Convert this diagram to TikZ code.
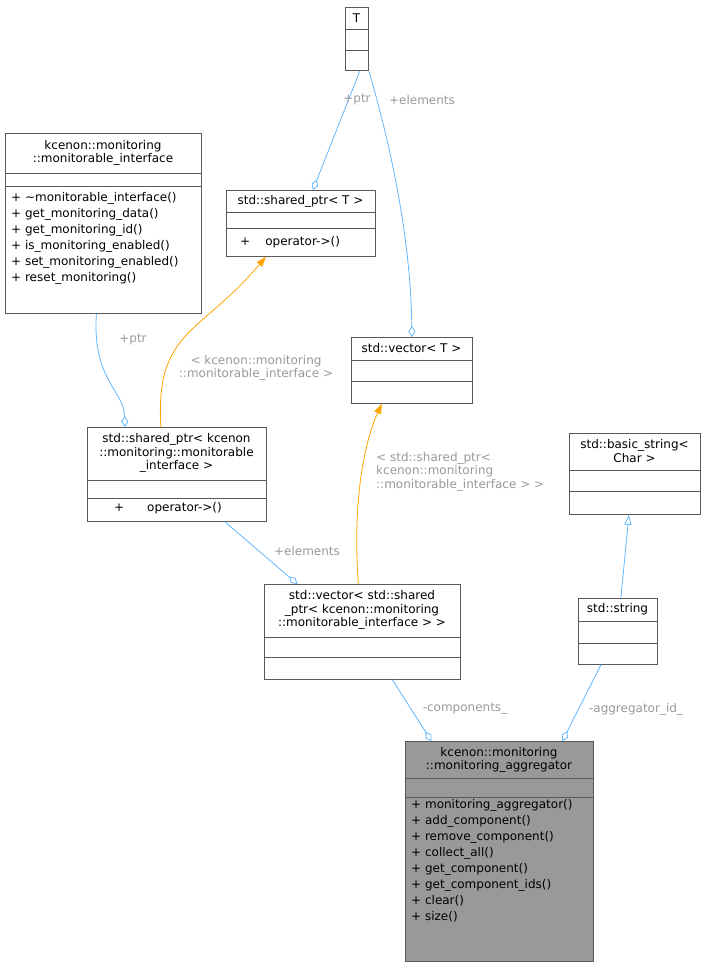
\documentclass[tikz,border=0pt]{standalone}
\usepackage{fontspec}
\setmainfont{DejaVu Sans}
\usetikzlibrary{arrows.meta,calc}
\definecolor{edgeblue}{HTML}{63B8FF}
\definecolor{edgeorange}{HTML}{FFA500}
\definecolor{lblgray}{HTML}{9A9A9A}
\definecolor{boxgray}{HTML}{999999}
\tikzset{
  cls/.style={draw=black!65, fill=white, rectangle, inner sep=0pt, anchor=north west, line width=0.8pt},
  txt/.style={inner sep=0pt, font=\fontsize{12}{13.5}\selectfont, align=center},
  mth/.style={inner sep=0pt, font=\fontsize{12}{16}\selectfont, align=left, anchor=north west},
  lbl/.style={inner sep=0pt, text=lblgray, font=\fontsize{12}{13.5}\selectfont, align=center},
  member/.style={draw=edgeblue, line width=0.8pt, -{Diamond[open, length=11pt, width=7pt]}},
  tmpl/.style={draw=edgeorange, line width=0.8pt, -{Triangle[length=10pt, width=7pt, fill=edgeorange]}},
  inherit/.style={draw=edgeblue, line width=0.8pt, -{Triangle[open, length=10pt, width=7pt]}}
}
% box: name, x, y, w, h, divider 1, divider 2
\newcommand{\classbox}[8][white]{%
  \node[cls, fill=#1, minimum width=#5pt, minimum height=#6pt] (#2) at (#3,#4) {};
  \draw[black!65, line width=0.8pt] (#3,#7) -- ++(#5,0);
  \draw[black!65, line width=0.8pt] (#3,#8) -- ++(#5,0);
}
\begin{document}
\begin{tikzpicture}[x=1pt, y=-1pt]
\useasboundingbox (0,0) rectangle (706,967);
\fill[white] (0,0) rectangle (706,967);

% class boxes
\classbox{T}{345}{7}{23}{63}{29}{50}
\node[txt] (tT) at (356.5,18) {T};

\classbox{mi}{5}{133}{196}{180}{173}{186}
\node[txt] (tmi) at (103,153) {kcenon::monitoring\\::monitorable\_interface};
\node[mth] (mmi) at (11,192) {+\ \textasciitilde monitorable\_interface()\\+\ get\_monitoring\_data()\\+\ get\_monitoring\_id()\\+\ is\_monitoring\_enabled()\\+\ set\_monitoring\_enabled()\\+\ reset\_monitoring()};

\classbox{spT}{226}{190}{149}{66}{212}{228}
\node[txt] (tspT) at (300.5,201) {std::shared\_ptr< T >};
\node[txt] (mspT) at (290,242) {+\ \ \ \ operator->()};

\classbox{vT}{351}{337}{121}{66}{360}{381}
\node[txt] (tvT) at (411.5,348) {std::vector< T >};

\classbox{spK}{87}{427}{179}{94}{480}{498}
\node[txt] (tspK) at (176.5,453) {std::shared\_ptr< kcenon\\::monitoring::monitorable\\\_interface >};
\node[txt] (mspK) at (168,508) {+\ \ \ \ \ \ operator->()};

\classbox{bs}{569}{433}{131}{81}{470}{491}
\node[txt] (tbs) at (634.5,451) {std::basic\_string<\\Char >};

\classbox{vS}{264}{584}{196}{95}{637}{657}
\node[txt] (tvS) at (362,610) {std::vector< std::shared\\\_ptr< kcenon::monitoring\\::monitorable\_interface > >};

\classbox{str}{578}{598}{79}{66}{621}{643}
\node[txt] (tstr) at (617.5,609) {std::string};

\classbox[boxgray]{agg}{405}{741}{188}{220}{778}{797}
\node[txt] (tagg) at (499,760) {kcenon::monitoring\\::monitoring\_aggregator};
\node[mth] (magg) at (411,799) {+\ monitoring\_aggregator()\\+\ add\_component()\\+\ remove\_component()\\+\ collect\_all()\\+\ get\_component()\\+\ get\_component\_ids()\\+\ clear()\\+\ size()};

% connectors
\draw[member] ($(T.south)+(3,0)$) -- ($(spT.north)+(12,0)$);
\draw[member] (T.south east) .. controls (395,160) and (411,250) .. (vT.north);
\draw[member] ($(mi.south)+(-7,0)$) .. controls (92,380) and (124,390) .. ($(spK.north)+(-52,0)$);
\draw[tmpl] ($(spK.north)+(-16,0)$) .. controls (155,330) and (200,335) .. ($(spT.south)+(-35,0)$);
\draw[tmpl] ($(vS.north)+(-4,0)$) .. controls (352,500) and (365,440) .. ($(vT.south)+(-30,0)$);
\draw[member] ($(spK.south)+(48,0)$) -- ($(vS.north)+(-65,0)$);
\draw[inherit] ($(str.north)+(3,0)$) -- ($(bs.south)+(-6,0)$);
\draw[member] ($(vS.south)+(30,0)$) -- ($(agg.north)+(-68,0)$);
\draw[member] ($(str.south)+(-17,0)$) -- ($(agg.north)+(63,0)$);

% labels
\node[lbl] (l1) at (357,100) {+ptr};
\node[lbl] (l2) at (422,100) {+elements};
\node[lbl] (l3) at (133,340) {+ptr};
\node[lbl] (l4) at (256,368) {< kcenon::monitoring\\::monitorable\_interface >};
\node[lbl, align=left, anchor=north west] (l5) at (376,452) {< std::shared\_ptr<\\kcenon::monitoring\\::monitorable\_interface > >};
\node[lbl] (l6) at (307,551) {+elements};
\node[lbl] (l7) at (465,709) {-components\_};
\node[lbl] (l8) at (636,709) {-aggregator\_id\_};
\end{tikzpicture}
\end{document}
